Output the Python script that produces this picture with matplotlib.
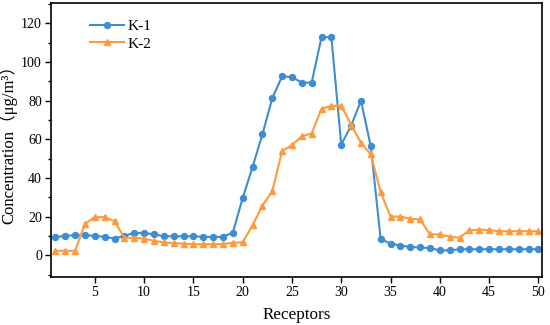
import numpy as np
import matplotlib
matplotlib.use('Agg')
from matplotlib import pyplot as plt
from matplotlib.ticker import MultipleLocator

plt.rcParams['font.family'] = ['Liberation Serif', 'Noto Sans CJK SC']

receptors = list(range(1, 51))
k1 = [9.4, 10.2, 10.4, 10.4, 10.1, 9.6, 8.7, 10.2, 11.6, 11.6,
      10.9, 9.9, 9.9, 9.9, 9.9, 9.6, 9.6, 9.6, 11.8, 29.7,
      45.7, 62.5, 81.2, 92.5, 92.2, 89.3, 89.3, 112.8, 112.8, 57.3,
      67.0, 79.9, 56.3, 8.4, 6.1, 5.1, 4.4, 4.1, 3.8, 2.6,
      2.6, 3.2, 3.2, 3.2, 3.2, 3.2, 3.2, 3.2, 3.2, 3.2]
k2 = [2.4, 2.4, 2.4, 16.4, 19.8, 19.8, 17.6, 9.1, 9.1, 8.7,
      7.5, 6.8, 6.3, 6.1, 5.8, 5.8, 5.8, 5.9, 6.5, 6.8,
      15.5, 25.8, 33.1, 53.9, 57.0, 61.6, 63.0, 75.8, 77.3, 77.3,
      67.6, 58.2, 52.2, 32.6, 20.1, 20.1, 18.9, 18.6, 10.9, 10.9,
      9.6, 9.2, 13.0, 13.3, 13.1, 12.5, 12.5, 12.5, 12.5, 12.5]

fig = plt.figure(figsize=(5.5, 3.25), dpi=100)
ax = fig.add_axes([0.0927, 0.1486, 0.8933, 0.8412])

ax.plot(receptors, k1, color='#3C8DD3', marker='o', markersize=4.3, lw=1.5, label='K-1')
ax.plot(receptors, k2, color='#FF9A3C', marker='^', markersize=4.5, lw=1.5, label='K-2')

ax.set_xlim(0.55, 50.4)
ax.set_ylim(-11, 130.3)
ax.set_xticks(range(5, 51, 5))
ax.set_yticks(range(0, 121, 20))
ax.yaxis.set_minor_locator(MultipleLocator(10))
ax.tick_params(direction='out', labelsize=10, width=1.0, length=4, pad=2.5)
ax.tick_params(which='minor', direction='out', width=1.0, length=2.5)
for s in ax.spines.values():
    s.set_linewidth(1.2)

ax.set_xlabel('Receptors', fontsize=12.3, labelpad=6)
ax.set_ylabel('Concentration（μg/m³）', fontsize=12, labelpad=3)
ax.legend(loc='upper left', frameon=False, fontsize=11, bbox_to_anchor=(0.055, 0.985),
          handlelength=2.2, borderpad=0.3, labelspacing=0.25, handletextpad=0.25)

fig.savefig('out.png', dpi=100)
